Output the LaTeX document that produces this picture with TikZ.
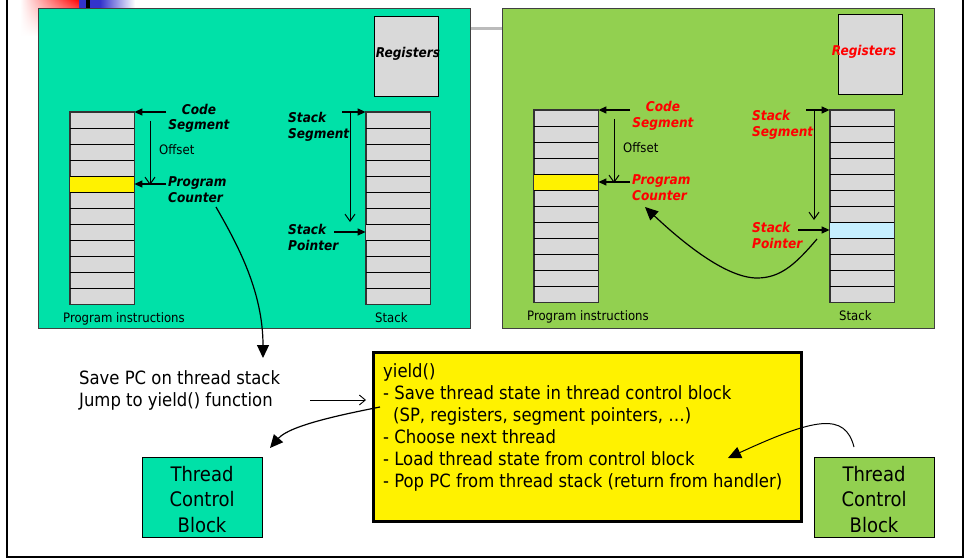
\documentclass[tikz,border=0pt]{standalone}
\usepackage{fontspec}
\setmainfont{DejaVu Sans Condensed}[BoldFont={DejaVu Sans Condensed Bold},ItalicFont={DejaVu Sans Condensed Oblique},BoldItalicFont={DejaVu Sans Condensed Bold Oblique}]
\usetikzlibrary{arrows.meta,fadings}
\definecolor{tealpanel}{RGB}{0,225,168}
\definecolor{greenpanel}{RGB}{146,208,80}
\definecolor{cellgray}{RGB}{217,217,217}
\definecolor{lightcyan}{RGB}{198,239,255}
\definecolor{labelred}{RGB}{255,0,0}
\definecolor{linegray}{RGB}{187,187,187}
\definecolor{decoblue}{RGB}{51,51,204}

\newcommand\threadpanel[4]{% #1 prefix, #2 label colour, #3 registers label x, #4 stack row colour
  \node[regbox] (#1reg) at (406,56) {};
  \node[lbl, text=#2, anchor=base] (#1regtxt) at (#3,58) {Registers};
  \node[col] (#1prog) at (102,208) {};
  \node[col] (#1stack) at (398,208) {};
  \fill[yellow] (70,176) rectangle (134,192);
  \fill[#4] (366,224) rectangle (430,240);
  \foreach \k in {1,...,11}{
    \draw[line width=0.8] (70,{112+16*\k}) -- (134,{112+16*\k});
    \draw[line width=0.8] (366,{112+16*\k}) -- (430,{112+16*\k});
  }
  \draw[line width=0.8, draw=black!80] (#1prog.north west) rectangle (#1prog.south east);
  \draw[line width=0.8, draw=black!80] (#1stack.north west) rectangle (#1stack.south east);
  \node[lbl, text=#2, align=center, anchor=base] (#1cs) at (199,130) {Code\\Segment};
  \node[plainlbl, anchor=base west] (#1off) at (159,154) {Offset};
  \node[lbl, text=#2, anchor=base west] (#1pc) at (168,202) {Program\\Counter};
  \node[lbl, text=#2, anchor=base west] (#1ss) at (288,138.5) {Stack\\Segment};
  \node[lbl, text=#2, anchor=base west] (#1sp) at (288,250.5) {Stack\\Pointer};
  \node[plainlbl, anchor=base west] (#1pi) at (63,322) {Program instructions};
  \node[plainlbl, anchor=base west] (#1st) at (375,322) {Stack};
  \coordinate (#1csA) at (166,112);
  \coordinate (#1offA) at (150,121);
  \coordinate (#1offB) at (150,185);
  \coordinate (#1pcA) at (166,184);
  \coordinate (#1ssA) at (342,112);
  \coordinate (#1ssV) at (350,112);
  \coordinate (#1spV) at (350,222);
  \coordinate (#1spA) at (334,232);
  \draw[ptr] (#1csA) -- (#1csA -| #1prog.east);
  \draw[offs] (#1offA) -- (#1offB);
  \draw[ptr] (#1pcA) -- (#1pcA -| #1prog.east);
  \draw[ptr] (#1ssA) -- (#1ssA -| #1stack.west);
  \draw[offs] (#1ssV) -- (#1spV);
  \draw[ptr] (#1spA) -- (#1spA -| #1stack.west);
}

\begin{document}
\begin{tikzpicture}[x=1pt,y=-1pt,
  panel/.style={draw=black!75, line width=1, minimum width=432, minimum height=320, inner sep=0},
  regbox/.style={draw=black, fill=cellgray, line width=0.8, minimum width=64, minimum height=80, inner sep=0},
  col/.style={draw=black!80, fill=cellgray, line width=0.8, minimum width=64, minimum height=192, inner sep=0},
  lbl/.style={font=\fontsize{13.5}{16}\selectfont\bfseries\itshape, align=left, inner sep=0},
  plainlbl/.style={font=\fontsize{13}{16}\selectfont, inner sep=0},
  bigtxt/.style={font=\fontsize{18.3}{22}\selectfont, inner sep=0, align=left},
  ptr/.style={-{Triangle[length=8,width=7]}, line width=1.2},
  offs/.style={-{Straight Barb[length=7,width=10]}, line width=1},
  curv/.style={-{Triangle[length=13,width=12]}, line width=1.2},
  jumparrow/.style={-{Straight Barb[length=6,width=10]}, line width=0.9},
  tcb/.style={draw=black, line width=0.8, minimum width=120, minimum height=80, inner sep=0, align=center, text height=71, font=\fontsize{20}{25.5}\selectfont},
  ybox/.style={draw=black, line width=3, fill=yellow, minimum width=428, minimum height=169, inner sep=0}
]
\useasboundingbox (0,0) rectangle (966,559);
\fill[white] (0,0) rectangle (966,559);

% top-left decoration
\shade[left color=white, right color=red, path fading=south] (20,0) rectangle (80,36);
\fill[decoblue] (79,0) rectangle (100,9);
\shade[left color=decoblue, right color=white] (100,0) rectangle (135,9);
\fill[black] (86,0) rectangle (90,9);
\draw[line width=3, draw=linegray] (468,28.5) -- (504,28.5);

% outer frame
\draw[line width=2.2] (7,0) -- (7,557) -- (963,557) -- (963,0);

% panels
\node[panel, fill=tealpanel] (Lpanel) at (254,168.3) {};
\node[panel, fill=greenpanel] (Rpanel) at (718,168.3) {};

\threadpanel{L}{black}{408}{cellgray}
\begin{scope}[shift={(464,-2)}]
\threadpanel{R}{labelred}{400}{lightcyan}
\end{scope}

% curve in left panel to the text below
\coordinate (Lcur) at (216,207);
\coordinate (saveTip) at (263,358);
\draw[curv] (Lcur) .. controls (236,242) and (263,290) .. (saveTip);

% curve in right panel from stack pointer to program counter
\coordinate (Rcur) at (817,239);
\coordinate (Rbot) at (757,278);
\coordinate (RpcTip) at (645,207);
\draw[curv] (Rcur) .. controls (795,265) and (780,278) .. (Rbot) .. controls (725,278) and (680,240) .. (RpcTip);

% texts bottom
\node[bigtxt, anchor=base west] (savetxt) at (79,406) {Save PC on thread stack\\Jump to yield() function};
\node[ybox] (yb) at (587,436.5) {};
\node[bigtxt, anchor=base west] (ybtxt) at (383,487) {yield()\\- Save thread state in thread control block\\\hspace*{10pt}(SP, registers, segment pointers, …)\\- Choose next thread\\- Load thread state from control block\\- Pop PC from thread stack (return from handler)};

\node[tcb, fill=tealpanel] (tcbL) at (202,497) {Thread\\Control\\Block};
\node[tcb, fill=greenpanel] (tcbR) at (874,497) {Thread\\Control\\Block};

\coordinate (jA) at (310,400);
\coordinate (jB) at (366,400);
\draw[jumparrow] (jA) -- (jB);

\coordinate (ybL) at (380,407);
\coordinate (tcbLtip) at (270,448);
\draw[curv] (ybL) .. controls (345,414) and (290,425) .. (tcbLtip);

\coordinate (tcbRtop) at (854,447);
\coordinate (ybTip) at (728,458);
\draw[curv, line width=1] (tcbRtop) .. controls (845,412) and (815,418) .. (ybTip);
\end{tikzpicture}
\end{document}
